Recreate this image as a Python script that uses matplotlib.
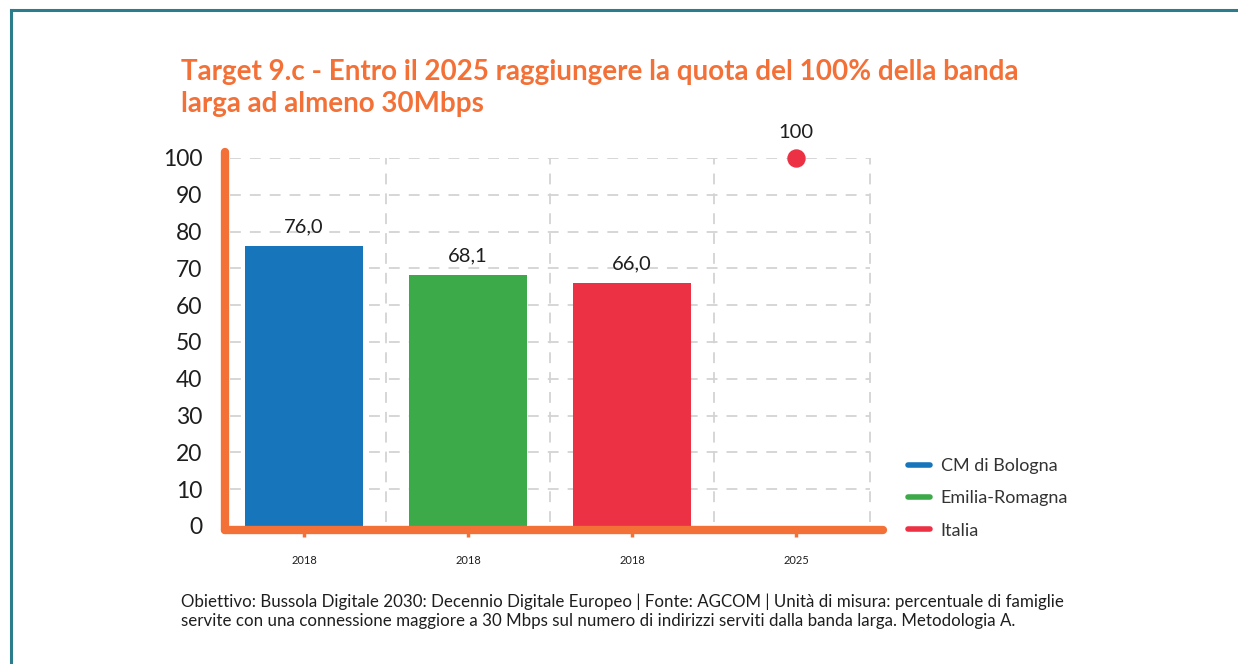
import matplotlib.pyplot as plt
from matplotlib.lines import Line2D

plt.rcParams['font.family'] = ['Lato', 'DejaVu Sans']

# data
categories = ["2018", "2018", "2018", "2025"]
series_names = ["CM di Bologna", "Emilia-Romagna", "Italia"]
bar_values = [76.0, 68.1, 66.0]
target_value = 100
value_labels = ["76,0", "68,1", "66,0"]
y_ticks = [0, 10, 20, 30, 40, 50, 60, 70, 80, 90, 100]

colors = ["#1775bc", "#3daa4a", "#ec3145"]
orange = "#f37036"
teal = "#2b7d8c"
text_dark = "#1e1e1e"

W, H = 1238, 664
fig = plt.figure(figsize=(W / 100, H / 100), dpi=100)

# outer frame (top and left)
fig.add_artist(Line2D([11 / W, 11 / W], [0, 1 - 10 / H], color=teal, lw=2.2))
fig.add_artist(Line2D([11 / W, 1], [1 - 10 / H, 1 - 10 / H], color=teal, lw=2.2))

# title
fig.text(181 / W, 1 - 59 / H, "Target 9.c - Entro il 2025 raggiungere la quota del 100% della banda\nlarga ad almeno 30Mbps",
         color=orange, fontsize=20, fontweight='bold', va='top', ha='left', linespacing=1.3)

ax = fig.add_axes([222 / W, 138 / H, 656 / W, 368 / H])
ax.set_xlim(-0.5, 3.5)
ax.set_ylim(0, 100)
for s in ax.spines.values():
    s.set_visible(False)

# gridlines
for y in y_ticks[1:]:
    ax.plot([-0.45, 3.45], [y, y], color="#d3d3d3", lw=1.3, dashes=(6, 5), zorder=0)
for x in [0.5, 1.5, 2.5, 3.45]:
    ax.plot([x, x], [1, 100], color="#d3d3d3", lw=1.3, dashes=(6, 5), zorder=0)

# bars
for i, (v, c, lab) in enumerate(zip(bar_values, colors, value_labels)):
    ax.bar(i, v, width=0.72, color=c, zorder=2, label=series_names[i])
    ax.text(i, v + 3, lab, ha='center', va='bottom', fontsize=14.5, color=text_dark)

# target point
ax.scatter([3], [target_value], s=150, color=colors[2], zorder=3, clip_on=False)
ax.text(3, target_value + 4.5, str(target_value), ha='center', va='bottom', fontsize=14.5, color=text_dark)

# axis lines
ax.plot([-0.48, -0.48], [-1.2, 101.5], color=orange, lw=6, solid_capstyle='round', clip_on=False, zorder=4)
ax.plot([-0.48, 3.53], [-1.2, -1.2], color=orange, lw=6, solid_capstyle='round', clip_on=False, zorder=4)

ax.set_yticks(y_ticks)
ax.set_yticklabels([str(v) for v in y_ticks], fontsize=16.5, color=text_dark)
ax.tick_params(axis='y', length=0, pad=14)
ax.set_xticks(range(len(categories)))
ax.set_xticklabels(categories, fontsize=8, color=text_dark)
ax.tick_params(axis='x', length=8, width=2.5, color=orange, pad=13, direction='out')

handles = [Line2D([0], [0], color=c, lw=4, solid_capstyle='round') for c in colors]
fig.legend(handles, series_names, loc='upper left', bbox_to_anchor=(892 / W, 1 - 442 / H),
           frameon=False, fontsize=13, handlelength=1.2, labelspacing=0.9, handletextpad=0.6,
           labelcolor="#333333")

fig.text(181 / W, 1 - 594 / H,
         "Obiettivo: Bussola Digitale 2030: Decennio Digitale Europeo | Fonte: AGCOM | Unità di misura: percentuale di famiglie\n"
         "servite con una connessione maggiore a 30 Mbps sul numero di indirizzi serviti dalla banda larga. Metodologia A.",
         fontsize=12.2, color=text_dark, va='top', ha='left', linespacing=1.2)

fig.savefig("out.png", dpi=100)
